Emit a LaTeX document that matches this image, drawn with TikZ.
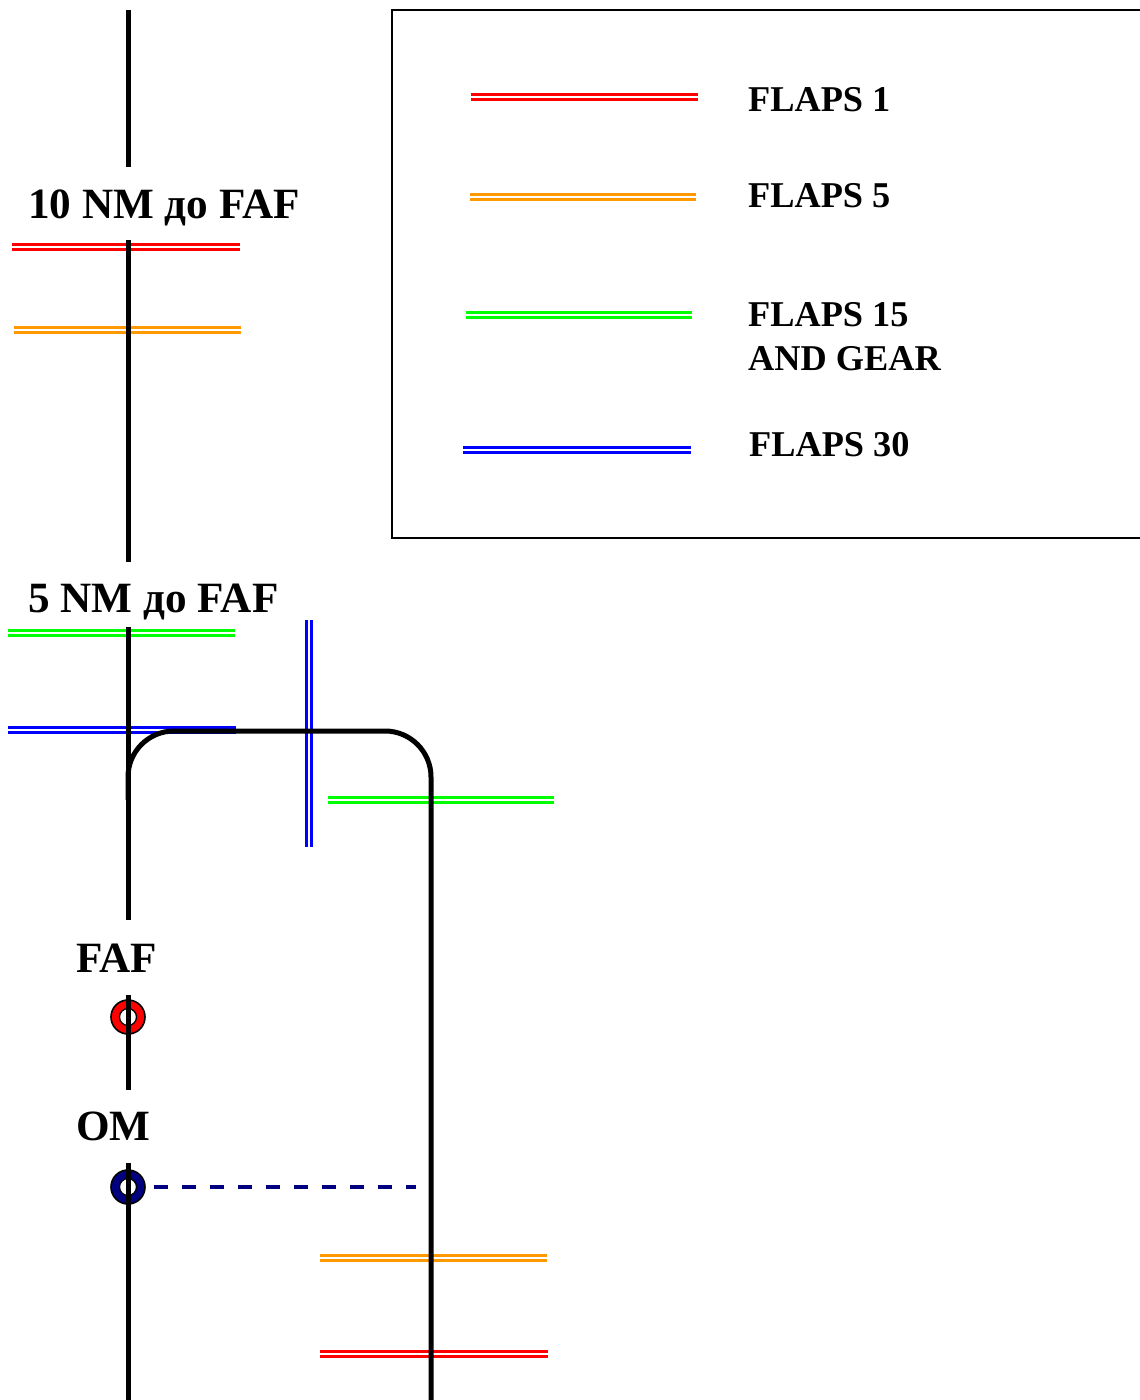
\documentclass[tikz,border=0pt]{standalone}
\usepackage{fontspec}
\setmainfont{Liberation Serif}
\definecolor{cred}{RGB}{255,0,0}
\definecolor{corange}{RGB}{255,153,0}
\definecolor{cgreen}{RGB}{0,255,0}
\definecolor{cblue}{RGB}{0,0,255}
\definecolor{cnavy}{RGB}{0,0,128}
\tikzset{
  track/.style={line width=5pt, draw=black},
  dbl/.style={line width=2.3pt, double=white, double distance=2.8pt, draw=#1},
  lbl/.style={font=\bfseries\fontsize{43.2}{46}\selectfont, anchor=base west, inner sep=0pt},
  leg/.style={font=\bfseries\fontsize{36.3}{44}\selectfont, anchor=base west, inner sep=0pt},
  ring/.style={circle, draw=black, line width=1.6pt, fill=#1, minimum size=34pt, inner sep=0pt},
  hole/.style={circle, draw=black, line width=1.3pt, fill=white, minimum size=17pt, inner sep=0pt},
  legbox/.style={draw=black, line width=1.5pt}
}
\begin{document}
\begin{tikzpicture}[x=1pt,y=-1pt]
\useasboundingbox (0,0) rectangle (1140,1400);
% legend box
\draw[legbox] (392,10) rectangle (1150,538);
% legend lines
\draw[dbl=cred] (471,97) coordinate (l1a) -- (698,97) coordinate (l1b);
\draw[dbl=corange] (470,197) coordinate (l2a) -- (696,197) coordinate (l2b);
\draw[dbl=cgreen] (466,315) coordinate (l3a) -- (692,315) coordinate (l3b);
\draw[dbl=cblue] (463,450) coordinate (l4a) -- (691,450) coordinate (l4b);
\node[leg] (t1) at (748,111) {FLAPS 1};
\node[leg] (t2) at (748,207) {FLAPS 5};
\node[leg] (t3) at (748,326) {FLAPS 15};
\node[leg] (t3b) at (748,370) {AND GEAR};
\node[leg] (t4) at (749,456) {FLAPS 30};
% double lines on the track
\draw[dbl=cred] (12,247) -- (240,247);
\draw[dbl=corange] (14,330) -- (241,330);
\draw[dbl=cgreen] (8,633) -- (235,633);
\draw[dbl=cblue] (8,730) -- (236,730);
\draw[dbl=cblue] (309,620) -- (309,847);
\draw[dbl=cgreen] (328,800) -- (554,800);
\draw[dbl=corange] (320,1258) -- (547,1258);
\draw[dbl=cred] (320,1354) -- (548,1354);
% track coordinates
\coordinate (s1a) at (128,10);
\coordinate (s1b) at (128,167);
\coordinate (s2a) at (128,240);
\coordinate (s2b) at (128,562);
\coordinate (s3a) at (128,627);
\coordinate (s3b) at (128,920);
\coordinate (ta) at (128,800);
\coordinate (tb) at (128,731);
\coordinate (tc) at (431,731);
\coordinate (td) at (431,1400);
\coordinate (s4a) at (128,995);
\coordinate (s4b) at (128,1090);
\coordinate (s5a) at (128,1163);
\coordinate (s5b) at (128,1400);
% markers
\node[ring=cred] (fafring) at (128,1017) {};
\node[hole] (fafhole) at (128,1017) {};
\node[ring=cnavy] (omring) at (128,1187) {};
\node[hole] (omhole) at (128,1187) {};
\coordinate (dashend) at (416,1187);
\draw[cnavy, line width=4pt, dash pattern=on 14pt off 14pt] (omring.east) ++(8,0) coordinate (dashstart) -- (dashend);
% track
\draw[track] (s1a) -- (s1b);
\draw[track] (s2a) -- (s2b);
\draw[track] (s3a) -- (s3b);
\draw[track, rounded corners=46pt] (ta) -- (tb) -- (tc) -- (td);
\draw[track] (s4a) -- (s4b);
\draw[track] (s5a) -- (s5b);
% labels
\node[lbl] (n10) at (28,218) {10 NM до FAF};
\node[lbl] (n5) at (28,612) {5 NM до FAF};
\node[lbl] (nfaf) at (76,972) {FAF};
\node[lbl] (nom) at (76,1140) {OM};
\end{tikzpicture}
\end{document}
